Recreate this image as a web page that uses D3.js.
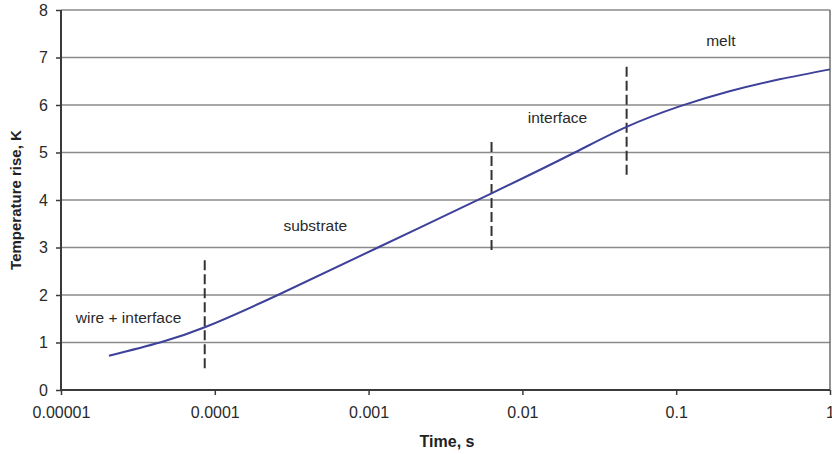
<!DOCTYPE html>
<html>
<head>
<meta charset="utf-8">
<script src="https://cdn.jsdelivr.net/npm/d3@7"></script>
<style>
  html, body { margin: 0; padding: 0; background: #fff; }
  svg { display: block; font-family: Arial, "Liberation Sans", sans-serif; }
</style>
</head>
<body>
<svg id="chart" width="832" height="454"></svg>
<script>
// Temperature rise vs. time (log axis)
const times = [2.05e-5, 4.4e-5, 8.6e-5, 2.57e-4, 1.15e-3, 6.3e-3, 0.0219, 0.0476, 0.105, 0.222, 0.47, 1.0];
const temps = [0.72, 1.0, 1.32, 2.0, 3.0, 4.14, 5.0, 5.54, 5.97, 6.29, 6.54, 6.75];

const xTicks = [0.00001, 0.0001, 0.001, 0.01, 0.1, 1];
const xTickLabels = ["0.00001", "0.0001", "0.001", "0.01", "0.1", "1"];
const yTicks = [0, 1, 2, 3, 4, 5, 6, 7, 8];

// Regime boundaries (dashed markers): time, lower and upper temperature
const boundaryTimes = [8.6e-5, 6.3e-3, 0.0476];
const boundaryLow = [0.46, 2.95, 4.53];
const boundaryHigh = [2.78, 5.22, 6.86];

// Regime labels: text, anchor time, baseline temperature
const regimeNames = ["wire + interface", "substrate", "interface", "melt"];
const regimeTimes = [2.75e-5, 4.5e-4, 0.0169, 0.195];
const regimeTemps = [1.41, 3.34, 5.62, 7.24];

const svg = d3.select("#chart");
const m = { left: 61, right: 830, top: 10, bottom: 390 };

const x = d3.scaleLog().domain([1e-5, 1]).range([m.left, m.right]);
const y = d3.scaleLinear().domain([0, 8]).range([m.bottom, m.top]);

// horizontal gridlines
svg.append("g").selectAll("line").data(yTicks.filter(d => d > 0)).join("line")
  .attr("x1", m.left).attr("x2", m.right)
  .attr("y1", d => y(d)).attr("y2", d => y(d))
  .attr("stroke", "#8a8a8a").attr("stroke-width", 1.3);

// right frame edge
svg.append("line")
  .attr("x1", m.right).attr("x2", m.right)
  .attr("y1", m.top).attr("y2", m.bottom)
  .attr("stroke", "#6e6e6e").attr("stroke-width", 1.5);

// y axis
const yAxis = svg.append("g").attr("transform", `translate(${m.left},0)`)
  .call(d3.axisLeft(y).tickValues(yTicks).tickSize(5).tickPadding(8).tickFormat(d3.format("d")));
// x axis
const xAxis = svg.append("g").attr("transform", `translate(0,${m.bottom})`)
  .call(d3.axisBottom(x).tickValues(xTicks).tickSize(5).tickPadding(12)
    .tickFormat((d, i) => xTickLabels[i]));

[yAxis, xAxis].forEach(g => {
  g.select(".domain").attr("stroke", "#3a3a3a").attr("stroke-width", 2);
  g.selectAll(".tick line").attr("stroke", "#3a3a3a").attr("stroke-width", 1.5);
  g.selectAll(".tick text").attr("fill", "#2a2a2a")
    .style("font-size", "16px").style("font-family", "Arial, 'Liberation Sans', sans-serif");
});
xAxis.select(".domain").attr("d", `M${m.left},0H${m.right}`);
yAxis.select(".domain").attr("d", `M0,${m.bottom}V${m.top}`);

// dashed regime boundaries
svg.append("g").selectAll("line").data(boundaryTimes).join("line")
  .attr("x1", d => x(d)).attr("x2", d => x(d))
  .attr("y1", (d, i) => y(boundaryLow[i])).attr("y2", (d, i) => y(boundaryHigh[i]))
  .attr("stroke", "#333").attr("stroke-width", 2)
  .attr("stroke-dasharray", "10,4");

// temperature curve
const pts = times.map((t, i) => [t, temps[i]]);
svg.append("path").datum(pts)
  .attr("fill", "none").attr("stroke", "#3e419a").attr("stroke-width", 2)
  .attr("d", d3.line().x(d => x(d[0])).y(d => y(d[1])).curve(d3.curveNatural));

// regime labels
svg.append("g").selectAll("text").data(regimeNames).join("text")
  .attr("x", (d, i) => x(regimeTimes[i])).attr("y", (d, i) => y(regimeTemps[i]))
  .attr("text-anchor", "middle").attr("fill", "#2a2a2a")
  .style("font-size", "15.5px")
  .text(d => d);

// axis titles
svg.append("text")
  .attr("x", 447).attr("y", 447).attr("text-anchor", "middle")
  .attr("fill", "#222").style("font-size", "16px").style("font-weight", "bold")
  .text("Time, s");
svg.append("text")
  .attr("transform", `translate(21,${(m.top + m.bottom) / 2}) rotate(-90)`)
  .attr("text-anchor", "middle")
  .attr("fill", "#222").style("font-size", "15px").style("font-weight", "bold")
  .text("Temperature rise, K");
</script>
</body>
</html>
